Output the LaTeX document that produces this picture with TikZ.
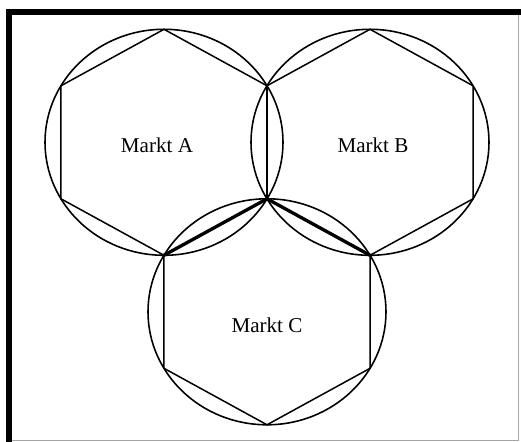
\documentclass[tikz,border=0pt]{standalone}
\usepackage{fontspec}
\setmainfont{Liberation Serif}
\usetikzlibrary{calc}

\begin{document}
\begin{tikzpicture}[
    marktRing/.style={draw=black, line width=0.9pt},
    marktHex/.style={draw=black, line width=0.85pt, line join=miter},
    grenzLinie/.style={draw=black, line width=1.9pt, line cap=round},
    marktLabel/.style={font=\fontsize{12}{14}\selectfont, inner sep=0pt}
]
    \useasboundingbox (0,0) rectangle (10.42,8.84);

    % Rahmen
    \draw[gray!70, line width=0.4pt] (0.18,0.03) -- (10.36,0.03) -- (10.36,8.594);
    \draw[line width=3.4pt] (0.18,0) -- (0.18,8.594) -- (10.42,8.594);

    % Mittelpunkte der Maerkte
    \coordinate (mA) at (3.28,5.994);
    \coordinate (mB) at (7.40,5.994);
    \coordinate (mC) at (5.34,2.604);

    % Kreise und Sechsecke
    \foreach \m/\name in {mA/A, mB/B, mC/C} {
        \draw[marktRing] (\m) ellipse [x radius=2.38cm, y radius=2.26cm];
        \draw[marktHex, shift={(\m)}, x=2.38cm, y=2.26cm]
            (90:1) coordinate (\name-1) -- (150:1) coordinate (\name-2) --
            (210:1) coordinate (\name-3) -- (270:1) coordinate (\name-4) --
            (330:1) coordinate (\name-5) -- (30:1) coordinate (\name-6) -- cycle;
    }

    % Beschriftung
    \node[marktLabel] (lA) at ($(mA)+(-0.14,-0.05)$) {Markt A};
    \node[marktLabel] (lB) at ($(mB)+(0.06,-0.05)$) {Markt B};
    \node[marktLabel] (lC) at ($(mC)+(0,-0.26)$) {Markt C};

    % Grenzen
    \draw[grenzLinie] (C-1) -- (C-2);
    \draw[grenzLinie] (C-1) -- (C-6);
\end{tikzpicture}
\end{document}
